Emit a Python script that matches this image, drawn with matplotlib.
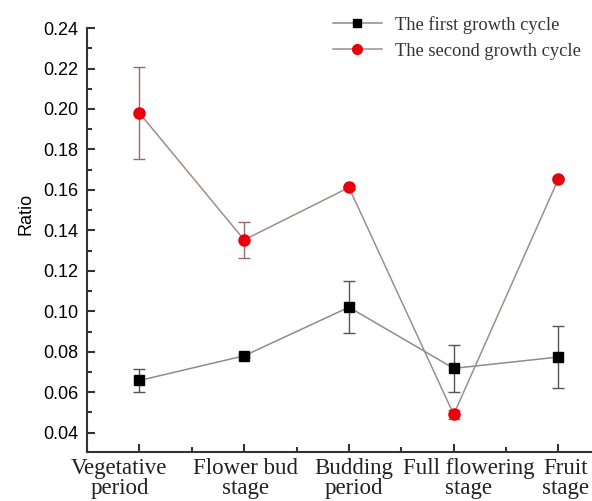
import matplotlib.pyplot as plt
import matplotlib.transforms as mtransforms
from matplotlib.lines import Line2D
from matplotlib.ticker import MultipleLocator

stages = ["Vegetative\nperiod", "Flower bud\nstage", "Budding\nperiod",
          "Full flowering\nstage", "Fruit\nstage"]
first_cycle = [0.0658, 0.0780, 0.1020, 0.0718, 0.0774]
first_err = [0.0055, 0.0008, 0.0129, 0.0117, 0.0154]
second_cycle = [0.1980, 0.1353, 0.1612, 0.0490, 0.1655]
second_err = [0.0226, 0.0090, 0.0008, 0.0020, 0.0008]

# horizontal nudge (pixels) of each category label
label_shift = [-20, 1, 5, 15, 7]

x = range(1, len(stages) + 1)

fig = plt.figure(figsize=(5.92, 5.01), dpi=100)
ax = fig.add_axes([0.147, 0.098, 0.853, 0.846])

ax.errorbar(x, first_cycle, yerr=first_err, color="#8c8c8c", lw=1.1,
            marker="s", ms=7, mfc="black", mec="black",
            ecolor="#555555", elinewidth=1, capsize=4, zorder=3)
ax.errorbar(x, second_cycle, yerr=second_err, color="#a08c8c", lw=1.1,
            marker="o", ms=8, mfc="#e8000b", mec="#e8000b",
            ecolor="#9a6a6a", elinewidth=1, capsize=4, zorder=4)

ax.set_xlim(0.5, 5.32)
ax.set_ylim(0.0305, 0.24)
ax.set_xticks(list(x))
ax.set_xticklabels([])
# category names drawn as text so each can be nudged sideways
for xi, name, dx in zip(x, stages, label_shift):
    tr = ax.get_xaxis_transform() + mtransforms.ScaledTranslation(
        dx / 100, -0.06, fig.dpi_scale_trans)
    ax.text(xi, 0, name, transform=tr, ha="center", va="top",
            family="Liberation Serif", fontsize=16.5, linespacing=0.95,
            color="#222222", clip_on=False)

ax.xaxis.set_minor_locator(MultipleLocator(0.5))
ax.yaxis.set_major_locator(MultipleLocator(0.02))
ax.yaxis.set_minor_locator(MultipleLocator(0.01))
ax.set_yticklabels([f"{v:.2f}" for v in ax.get_yticks()],
                   family="Liberation Sans", fontsize=13)
ax.set_ylabel("Ratio", family="Liberation Sans", fontsize=13)
ax.yaxis.set_label_coords(-0.105, 0.561)

for side in ["top", "right"]:
    ax.spines[side].set_visible(False)
for side in ["left", "bottom"]:
    ax.spines[side].set_linewidth(1.5)
    ax.spines[side].set_color("#333333")

ax.tick_params(which="major", direction="in", length=6, width=1.5,
               color="#333333", pad=6)
ax.tick_params(which="minor", direction="in", length=3.5, width=1.5,
               color="#333333")

# legend entries without the error bar glyphs
handles = [
    Line2D([], [], color="#8c8c8c", lw=1.1, marker="s", ms=6,
           mfc="black", mec="black"),
    Line2D([], [], color="#a08c8c", lw=1.1, marker="o", ms=7,
           mfc="#e8000b", mec="#e8000b"),
]
fig.legend(handles, ["The first growth cycle", "The second growth cycle"],
           loc="upper left", bbox_to_anchor=(333 / 592, 1 - 16 / 501),
           frameon=False, borderpad=0, borderaxespad=0,
           prop={"family": "Liberation Serif", "size": 13.3},
           labelcolor="#333333",
           handlelength=2.65, handletextpad=0.7, labelspacing=0.49)

plt.savefig("out.png", dpi=100)
